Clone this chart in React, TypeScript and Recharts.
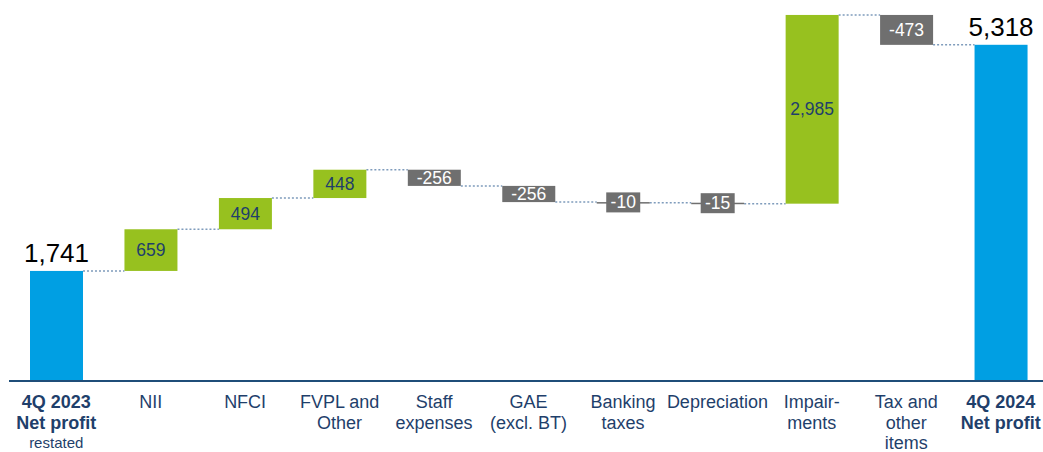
import { BarChart, Bar, XAxis, YAxis } from "recharts";

const categories = ["4Q 2023", "NII", "NFCI", "FVPL and Other", "Staff expenses", "GAE (excl. BT)", "Banking taxes", "Depreciation", "Impairments", "Tax and other items", "4Q 2024"];
const tickLines = [
  ["4Q 2023", "Net profit", "restated"],
  ["NII"],
  ["NFCI"],
  ["FVPL and", "Other"],
  ["Staff", "expenses"],
  ["GAE", "(excl. BT)"],
  ["Banking", "taxes"],
  ["Depreciation"],
  ["Impair-", "ments"],
  ["Tax and", "other", "items"],
  ["4Q 2024", "Net profit"],
];
const values = [1741, 659, 494, 448, -256, -256, -10, -15, 2985, -473, 5318];
const kinds = ["total", "delta", "delta", "delta", "delta", "delta", "delta", "delta", "delta", "delta", "total"];

const W = 1040;
const H = 444;
const FONT = "'Liberation Sans', Arial, sans-serif";
const BLUE = "#009FE3";
const GREEN = "#97C11F";
const GREY = "#6F6F6F";
const NAVY = "#1F3F6B";
const DOT = "#7F9CBC";

let running = 0;
const data = categories.map((name, i) => {
  const v = values[i];
  if (kinds[i] === "total") {
    running = v;
    return { name, base: 0, size: v, value: v, kind: "total" };
  }
  const start = running;
  running = start + v;
  return { name, base: Math.min(start, running), size: Math.abs(v), value: v, kind: "delta" };
});

const step = (W - 1) / categories.length;
const fmt = (v: number) => v.toLocaleString("en-US");

function WaterfallBar(props: any) {
  const { x, y, width, height, payload, index } = props;
  const cx = x + width / 2;
  const cy = y + height / 2;
  const v = payload.value;
  const isTotal = payload.kind === "total";
  const fill = isTotal ? BLUE : v >= 0 ? GREEN : GREY;
  const endY = isTotal || v >= 0 ? y : y + height;
  const last = index === categories.length - 1;
  const small = !isTotal && v < 0 && height < 16;
  return (
    <g>
      {!last && (
        <line x1={x + width} x2={x + step} y1={endY} y2={endY} stroke={DOT} strokeWidth={1.5} strokeDasharray="2 2" />
      )}
      <rect x={x} y={y} width={width} height={Math.max(height, small ? 1.5 : 0)} fill={fill} />
      {isTotal && (
        <text x={cx} y={y - 9} textAnchor="middle" fontFamily={FONT} fontSize={26} fill="#000">{fmt(v)}</text>
      )}
      {!isTotal && v > 0 && (
        <text x={cx} y={cy} textAnchor="middle" dominantBaseline="central" fontFamily={FONT} fontSize={17.5} fill={NAVY}>{fmt(v)}</text>
      )}
      {!isTotal && v < 0 && (
        <g>
          {small && <rect x={cx - 17} y={cy - 10} width={34} height={20} fill={GREY} />}
          <text x={cx} y={cy} textAnchor="middle" dominantBaseline="central" fontFamily={FONT} fontSize={17.5} fill="#fff">{fmt(v)}</text>
        </g>
      )}
    </g>
  );
}

function Tick(props: any) {
  const { x, y, index } = props;
  const lines = tickLines[index] || [];
  const isTotal = kinds[index] === "total";
  return (
    <text x={x} y={y} textAnchor="middle" fontFamily={FONT} fill={NAVY}>
      {lines.map((l, i) => {
        const bold = isTotal && i < 2;
        const smallLine = isTotal && i === 2;
        return (
          <tspan key={i} x={x} dy={i === 0 ? 19 : smallLine ? 19 : 20.5} fontSize={smallLine ? 15 : 18} fontWeight={bold ? "bold" : "normal"}>
            {l}
          </tspan>
        );
      })}
    </text>
  );
}

export default function App() {
  return (
    <div style={{ position: "fixed", left: 8, top: 8, width: 1035, height: H, overflow: "hidden", background: "#fff" }}>
      <BarChart width={W} height={H} data={data} margin={{ top: 0, right: 0, bottom: 0, left: 1 }} barCategoryGap={0}>
        <XAxis
          dataKey="name"
          interval={0}
          height={71}
          tickLine={false}
          axisLine={{ stroke: "#1F4E79", strokeWidth: 2 }}
          tick={<Tick />}
        />
        <YAxis hide domain={[0, 5900]} />
        <Bar dataKey="base" stackId="a" fill="transparent" isAnimationActive={false} barSize={53} />
        <Bar dataKey="size" stackId="a" isAnimationActive={false} barSize={53} shape={<WaterfallBar />} />
      </BarChart>
    </div>
  );
}
